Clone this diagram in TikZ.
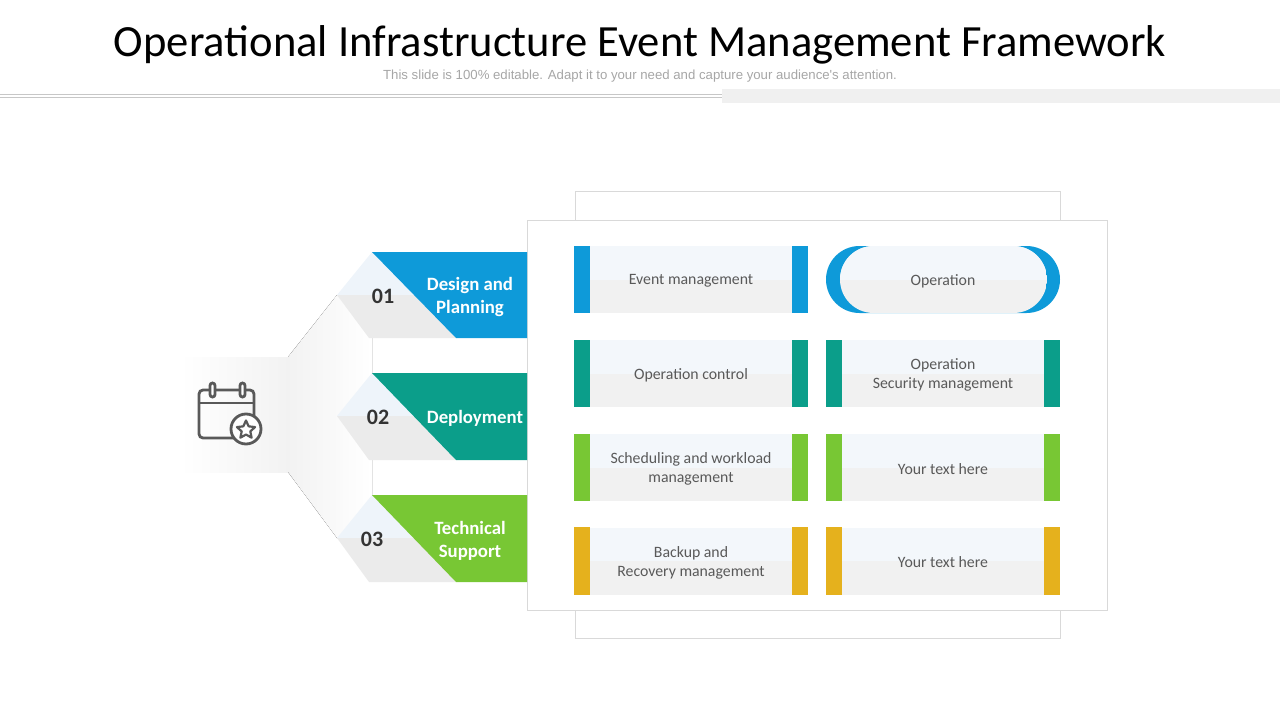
\documentclass[tikz,border=0pt]{standalone}
\usepackage{fontspec}
\setmainfont{Carlito}
\newfontfamily\subfont{Liberation Sans}
\usetikzlibrary{shapes.geometric}

\definecolor{blueC}{HTML}{0E9AD9}
\definecolor{tealC}{HTML}{0B9E8A}
\definecolor{greenC}{HTML}{78C734}
\definecolor{goldC}{HTML}{E5B11D}
\definecolor{txtgray}{HTML}{595959}
\definecolor{numgray}{HTML}{333333}
\definecolor{cardtop}{HTML}{F3F7FB}
\definecolor{cardbot}{HTML}{F1F1F1}
\definecolor{tabtop}{HTML}{EEF4FA}
\definecolor{tabbot}{HTML}{EBEBEB}
\definecolor{framegray}{HTML}{D9D9D9}

\begin{document}
\begin{tikzpicture}[x=1pt, y=-1pt,
  card/.style={minimum width=234pt, minimum height=67pt, inner sep=0pt, align=center,
    text=txtgray, font=\fontsize{15.8}{19}\selectfont, fill=cardbot,
    path picture={\fill[cardtop] (path picture bounding box.north west) rectangle (path picture bounding box.east);}},
  cardtxt/.style={text=txtgray, align=center, font=\fontsize{15.8}{19}\selectfont, yshift=-1.5pt},
  tabtxt/.style={text=white, align=center, font=\bfseries\fontsize{18.8}{23}\selectfont},
  tabnum/.style={text=numgray, font=\bfseries\fontsize{22}{26}\selectfont},
  icon/.style={draw=txtgray, line width=2.8pt}]
\useasboundingbox (0,0) rectangle (1280,720);

\node (title) at (640,45) {\fontsize{44.6}{52}\selectfont Operational Infrastructure Event Management Framework};
\node (sub) at (640,76) [text=black!35] {\subfont\fontsize{13.2}{15}\selectfont This slide is 100\% editable. Adapt it to your need and capture your audience's attention.};
\draw[black!22] (0,94.5) -- (722,94.5);
\draw[black!22] (0,96.8) -- (722,96.8);
\fill[black!6] (722,89) rectangle (1280,103);

% back frames
\draw[framegray] (575,191) rectangle (1060,638);
\draw[framegray, fill=white] (527,220) rectangle (1107,610);

% funnel behind the tabs
\fill[left color=white, right color=black!5] (180,357) rectangle (288,472);
\fill[left color=black!5, right color=white] (288,357) -- (337,295) -- (372,295) -- (372,538) -- (337,538) -- (288,472) -- cycle;

% tabs
\fill[tabtop] (337,295) -- (372,252) -- (414,295) -- cycle;
\fill[tabbot] (337,295) -- (414,295) -- (456,338) -- (369,338) -- cycle;
\fill[blueC] (372,252) -- (527,252) -- (527,338) -- (456,338) -- cycle;
\node (n1) at (383,296) [tabnum] {01};
\node (t1) at (470,297) [tabtxt] {Design and\\Planning};

\fill[tabtop] (337,416) -- (372,373) -- (414,416) -- cycle;
\fill[tabbot] (337,416) -- (414,416) -- (456,460) -- (369,460) -- cycle;
\fill[tealC] (372,373) -- (527,373) -- (527,460) -- (456,460) -- cycle;
\node (n2) at (378,417) [tabnum] {02};
\node (t2) at (475,418) [tabtxt] {Deployment};

\fill[tabtop] (337,538) -- (372,495) -- (414,538) -- cycle;
\fill[tabbot] (337,538) -- (414,538) -- (456,582) -- (369,582) -- cycle;
\fill[greenC] (372,495) -- (527,495) -- (527,582) -- (456,582) -- cycle;
\node (n3) at (372,539) [tabnum] {03};
\node (t3) at (470,541) [tabtxt] {Technical\\Support};

% calendar icon
\draw[icon, rounded corners=4pt] (199,390) rectangle (254,438);
\draw[icon] (199,403) -- (254,403);
\draw[icon, fill=white, rounded corners=2.5pt] (210,383) rectangle (215,397);
\draw[icon, fill=white, rounded corners=2.5pt] (240,383) rectangle (245,397);
\node (badge) at (246,429) [circle, icon, fill=white, minimum size=30pt, inner sep=0pt] {};
\node (star) at (246,430) [star, star points=5, star point ratio=2.1, draw=txtgray, line width=2.2pt, line join=round, minimum size=19pt, inner sep=0pt] {};

% cards
\node (em) at (691,279.5) [card] {};
\node (oc) at (691,373.5) [card] {};
\node (osm) at (943,373.5) [card] {};
\node (sw) at (691,467.5) [card] {};
\node (yt1) at (943,467.5) [card] {};
\node (br) at (691,561) [card] {};
\node (yt2) at (943,561) [card] {};
\foreach \n/\c in {em/blueC, oc/tealC, osm/tealC, sw/greenC, yt1/greenC, br/goldC, yt2/goldC} {
  \fill[\c] (\n.north west) rectangle ([xshift=16pt]\n.south west);
  \fill[\c] (\n.north east) rectangle ([xshift=-16pt]\n.south east);
}
\node (emt) at (em) [cardtxt] {Event management};
\node (oct) at (oc) [cardtxt] {Operation control};
\node (osmt) at (osm) [cardtxt] {Operation\\Security management};
\node (swt) at (sw) [cardtxt] {Scheduling and workload\\management};
\node (yt1t) at (yt1) [cardtxt] {Your text here};
\node (brt) at (br) [cardtxt] {Backup and\\Recovery management};
\node (yt2t) at (yt2) [cardtxt] {Your text here};

% operation pill
\fill[blueC, rounded corners=33.5pt] (826,246) rectangle (1060,313);
\begin{scope}
  \clip[rounded corners=33.5pt] (840,246) rectangle (1047,313);
  \fill[cardbot] (840,246) rectangle (1047,313);
  \fill[cardtop] (840,246) rectangle (1047,279.5);
\end{scope}
\node (op) at (943,279.5) [cardtxt] {Operation};

\end{tikzpicture}
\end{document}
